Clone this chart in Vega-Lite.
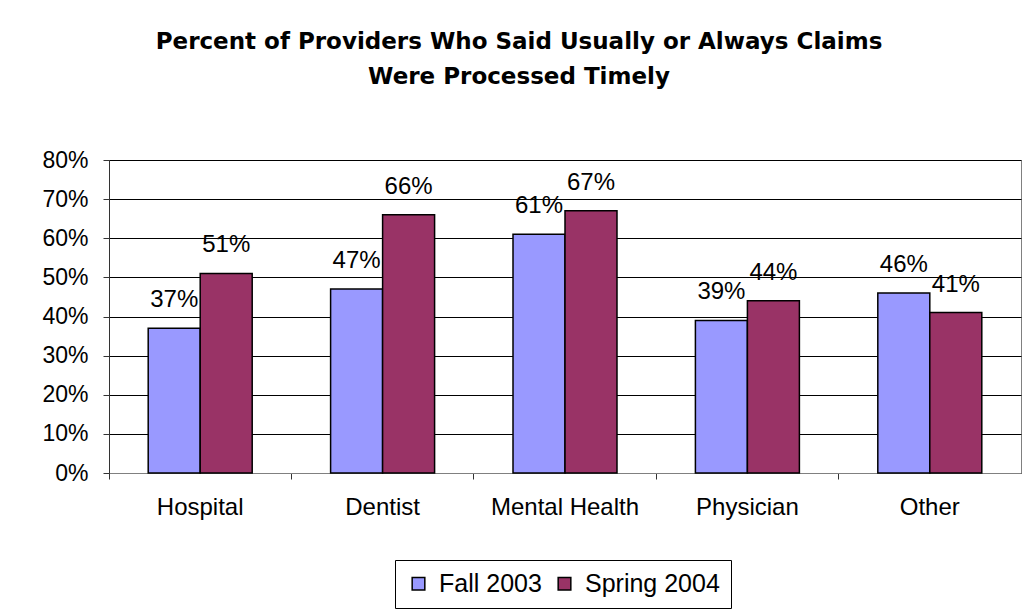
{
  "$schema": "https://vega.github.io/schema/vega-lite/v6.json",
  "autosize": {"type": "none"},
  "width": 912,
  "height": 313,
  "padding": {"left": 109, "top": 160, "right": 11, "bottom": 139},
  "background": "white",
  "config": {
    "font": "Liberation Sans",
    "view": {"stroke": "#808080", "strokeWidth": 1}
  },
  "title": {
    "text": ["Percent of Providers Who Said Usually or Always Claims", "Were Processed Timely"],
    "font": "DejaVu Sans",
    "fontSize": 23,
    "fontWeight": "bold",
    "color": "black",
    "anchor": "middle",
    "frame": "group",
    "dx": -46,
    "lineHeight": 35,
    "baseline": "alphabetic",
    "offset": 42
  },
  "data": {
    "values": [
      {"provider": "Hospital", "survey": "Fall 2003", "pct": 0.37},
      {"provider": "Hospital", "survey": "Spring 2004", "pct": 0.51},
      {"provider": "Dentist", "survey": "Fall 2003", "pct": 0.47},
      {"provider": "Dentist", "survey": "Spring 2004", "pct": 0.66},
      {"provider": "Mental Health", "survey": "Fall 2003", "pct": 0.61},
      {"provider": "Mental Health", "survey": "Spring 2004", "pct": 0.67},
      {"provider": "Physician", "survey": "Fall 2003", "pct": 0.39},
      {"provider": "Physician", "survey": "Spring 2004", "pct": 0.44},
      {"provider": "Other", "survey": "Fall 2003", "pct": 0.46},
      {"provider": "Other", "survey": "Spring 2004", "pct": 0.41}
    ]
  },
  "encoding": {
    "x": {
      "field": "provider",
      "type": "nominal",
      "sort": ["Hospital", "Dentist", "Mental Health", "Physician", "Other"],
      "scale": {"paddingInner": 0, "paddingOuter": 0},
      "axis": {
        "title": null,
        "labelAngle": 0,
        "labelFont": "Liberation Sans",
        "labelFontSize": 24,
        "labelColor": "black",
        "labelPadding": 16,
        "labelBaseline": "top",
        "bandPosition": 0,
        "tickSize": 6,
        "tickColor": "#333333",
        "domainColor": "#808080",
        "grid": false
      }
    },
    "xOffset": {
      "field": "survey",
      "type": "nominal",
      "scale": {"paddingInner": 0, "paddingOuter": 0.754}
    },
    "y": {
      "field": "pct",
      "type": "quantitative",
      "scale": {"domain": [0, 0.8], "nice": false},
      "axis": {
        "title": null,
        "format": ".0%",
        "values": [0, 0.1, 0.2, 0.3, 0.4, 0.5, 0.6, 0.7, 0.8],
        "labelFont": "Liberation Sans",
        "labelFontSize": 23,
        "labelColor": "black",
        "labelPadding": 15,
        "tickSize": 6,
        "tickColor": "#333333",
        "domainColor": "#333333",
        "grid": true,
        "gridColor": "black",
        "gridOpacity": 1,
        "gridWidth": 1
      }
    }
  },
  "layer": [
    {
      "mark": {"type": "bar", "stroke": "black", "strokeWidth": 1.5},
      "encoding": {
        "color": {
          "field": "survey",
          "type": "nominal",
          "scale": {"domain": ["Fall 2003", "Spring 2004"], "range": ["#9999FF", "#993366"]},
          "legend": {
            "title": null,
            "orient": "none",
            "legendX": 286,
            "legendY": 400,
            "direction": "horizontal",
            "fillColor": "white",
            "strokeColor": "black",
            "padding": 11,
            "symbolType": "square",
            "symbolSize": 160,
            "symbolStrokeColor": "black",
            "symbolStrokeWidth": 1.5,
            "labelFont": "Liberation Sans",
            "labelFontSize": 25,
            "labelColor": "black",
            "labelOffset": 8,
            "columnPadding": 10
          }
        }
      }
    },
    {
      "mark": {"type": "text", "baseline": "alphabetic", "dy": -21, "fontSize": 24, "font": "Liberation Sans", "color": "black"},
      "encoding": {
        "text": {"field": "pct", "type": "quantitative", "format": ".0%"}
      }
    }
  ]
}
